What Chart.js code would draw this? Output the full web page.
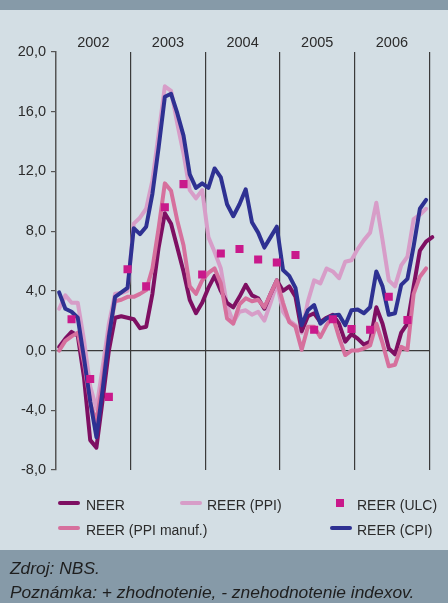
<!DOCTYPE html>
<html><head><meta charset="utf-8">
<script src="https://cdn.jsdelivr.net/npm/chart.js@4.4.1/dist/chart.umd.min.js"></script>
<style>
html,body{margin:0;padding:0;}
body{width:448px;height:603px;position:relative;overflow:hidden;background:#d3dee4;font-family:'Liberation Sans',Arial,sans-serif;color:#2b2b2b;}
#topband{position:absolute;left:0;top:0;width:448px;height:10px;background:#869aa8;}
#foot{position:absolute;left:0;top:550px;width:448px;height:53px;background:#869aa8;}
#c{position:absolute;left:0;top:0;}
.lg{position:absolute;font-size:14px;line-height:14px;white-space:nowrap;}
.ls{position:absolute;height:4px;border-radius:2px;width:22px;}
.lq{position:absolute;width:8px;height:8px;}
.ft{position:absolute;left:10px;font-size:17.4px;line-height:17.4px;font-style:italic;white-space:nowrap;color:#1e1e1e;}
</style></head>
<body>
<div id="topband"></div>
<div id="foot"></div>
<canvas id="c" width="448" height="603"></canvas>
<div id="legend"></div>
<div class="ft" style="top:560px">Zdroj: NBS.</div>
<div class="ft" style="top:584px">Poznámka: + zhodnotenie, - znehodnotenie indexov.</div>
<script>
// Monthly values, Jan 2002 onward (NEER has one extra month)
const neer = [0.25, 0.8, 1.25, 1.0, -1.8, -6.0, -6.5, -3.3, 0.0, 2.2,
  2.3, 2.2, 2.1, 1.5, 1.6, 3.8, 6.9, 9.2, 8.5, 6.9,
  5.3, 3.4, 2.5, 3.2, 4.2, 5.0, 4.0, 3.2, 2.9, 3.6,
  4.4, 3.7, 3.5, 2.8, 3.8, 4.7, 4.0, 4.3, 3.6, 1.3,
  2.3, 2.5, 1.9, 2.2, 2.4, 1.8, 0.6, 1.1, 0.8, 0.4,
  0.6, 2.9, 1.8, 0.15, -0.25, 1.2, 1.8, 4.3, 6.7, 7.3, 7.6];
const reerCpi = [3.9, 2.8, 2.6, 2.2, -0.5, -3.4, -5.8, -2.6, 0.9, 3.6,
  3.9, 4.2, 8.2, 7.8, 8.3, 10.5, 13.6, 17.0, 17.2, 15.9,
  14.4, 11.8, 10.9, 11.2, 10.9, 12.2, 11.6, 9.8, 9.0, 9.8,
  10.8, 8.6, 7.9, 6.9, 7.6, 8.3, 5.4, 5.0, 4.2, 1.7,
  2.7, 3.05, 1.8, 2.15, 2.35, 2.4, 1.7, 2.7, 2.75, 2.5,
  2.9, 5.3, 4.3, 2.4, 2.5, 4.4, 4.8, 7.0, 9.5, 10.1];
const reerPpi = [2.8, 3.7, 3.2, 3.2, 0.7, -2.4, -3.9, -1.1, 1.8, 3.8,
  3.85, 4.0, 8.5, 8.9, 9.5, 11.4, 14.5, 17.7, 17.4, 15.2,
  13.2, 10.75, 10.2, 10.75, 7.6, 6.6, 5.5, 3.0, 1.9, 2.6,
  2.7, 2.4, 2.6, 2.0, 3.2, 4.5, 2.6, 2.0, 1.7, 1.2,
  3.3, 4.7, 4.5, 5.5, 5.3, 4.85, 5.95, 6.05, 6.8, 7.4,
  7.9, 9.9, 7.4, 4.7, 4.3, 5.7, 6.3, 8.8, 9.1, 9.5];
const reerPpiManuf = [0.0, 0.65, 0.95, 1.2, -0.85, -3.5, -4.8, -2.0, 1.15, 3.3,
  3.4, 3.6, 3.6, 3.8, 4.05, 5.5, 8.2, 11.2, 10.7, 8.7,
  7.05, 4.3, 3.8, 4.7, 5.2, 5.5, 4.5, 2.15, 1.8, 3.1,
  3.5, 3.3, 3.4, 2.9, 3.8, 4.7, 3.2, 1.9, 1.6, 0.05,
  1.6, 1.6, 0.9, 1.7, 2.3, 0.9, -0.3, 0.0, 0.0, 0.15,
  0.35, 1.8, 0.5, -1.05, -0.95, 0.25, 0.05, 3.8, 4.95, 5.5];
// Quarterly values, Q1 2002 - Q3 2006 (plotted at quarter-end month)
const reerUlc = [2.1, -1.9, -3.1, 5.45, 4.3, 9.6, 11.15, 5.1, 6.5, 6.8,
  6.1, 5.9, 6.4, 1.4, 2.1, 1.45, 1.4, 3.6, 2.05];
const years = ['2002', '2003', '2004', '2005', '2006'];
const yTicks = [-8, -4, 0, 4, 8, 12, 16, 20];
const names = ['NEER', 'REER (PPI)', 'REER (ULC)', 'REER (PPI manuf.)', 'REER (CPI)'];

const C_NEER = '#7e0f62', C_PPI = '#d79dc8', C_ULC = '#c9198b', C_PPIM = '#d6709d', C_CPI = '#2e3192';
const FONT = "'Liberation Sans', Arial, sans-serif";
const TXT = '#2b2b2b';

const monthly = arr => arr.map((v, i) => ({x: i, y: v}));
const quarterly = arr => arr.map((v, k) => ({x: 2 + 3 * k, y: v}));

const xTickVals = [];
for (let y = 0; y <= years.length; y++) {
  xTickVals.push(y * 12 - 0.5);
  if (y < years.length) xTickVals.push(y * 12 + 5.5);
}

const lineDs = (label, data, color, order, extra) => Object.assign({
  label, data: monthly(data), borderColor: color, backgroundColor: color,
  borderWidth: 4, pointRadius: 0, tension: 0, fill: false, order,
  borderJoinStyle: 'round', borderCapStyle: 'round'
}, extra || {});

new Chart(document.getElementById('c'), {
  type: 'line',
  data: {
    datasets: [
      lineDs(names[1], reerPpi, C_PPI, 4),
      lineDs(names[0], neer, C_NEER, 3, {clip: false}),
      lineDs(names[3], reerPpiManuf, C_PPIM, 2),
      lineDs(names[4], reerCpi, C_CPI, 1),
      {label: names[2], data: quarterly(reerUlc), showLine: false, pointStyle: 'rect',
       pointRadius: 5.7, pointHoverRadius: 5.7, borderWidth: 0, backgroundColor: C_ULC,
       borderColor: C_ULC, order: 0}
    ]
  },
  options: {
    responsive: false, animation: false, devicePixelRatio: 1,
    layout: {padding: {left: 0, right: 18.8, top: 0, bottom: 133}},
    plugins: {legend: {display: false}, tooltip: {enabled: false}},
    scales: {
      x: {
        type: 'linear', position: 'top', min: -0.5, max: 59.5,
        afterFit: s => { s.height = 52; },
        afterBuildTicks: s => { s.ticks = xTickVals.map(v => ({value: v})); },
        ticks: {
          autoSkip: false, maxRotation: 0, padding: 0, color: TXT,
          font: {family: FONT, size: 14.5},
          callback: v => {
            const k = (v - 5.5) / 12;
            return Number.isInteger(k) ? years[k] : '';
          }
        },
        grid: {
          drawTicks: false, lineWidth: 1.2,
          color: ctx => {
            const v = ctx.tick ? ctx.tick.value : null;
            return (v !== null && v > 0 && Number.isInteger((v + 0.5) / 12)) ? '#3a3a3a' : 'rgba(0,0,0,0)';
          }
        },
        border: {display: false}
      },
      y: {
        min: -8, max: 20,
        afterFit: s => { s.width = 56; },
        afterBuildTicks: s => { s.ticks = yTicks.map(v => ({value: v})); },
        ticks: {
          padding: 5, color: TXT, font: {family: FONT, size: 14.5},
          callback: v => v.toFixed(1).replace('.', ',')
        },
        grid: {
          lineWidth: 1.2, tickLength: 5, tickColor: '#555',
          color: ctx => (ctx.tick && ctx.tick.value === 0) ? '#3a3a3a' : 'rgba(0,0,0,0)'
        },
        border: {display: true, color: '#555', width: 1.5}
      }
    }
  }
});

// Legend (HTML)
const legendItems = [
  {name: names[0], color: C_NEER, kind: 'line', lx: 58, tx: 86, row: 0},
  {name: names[1], color: C_PPI, kind: 'line', lx: 180, tx: 207, row: 0},
  {name: names[2], color: C_ULC, kind: 'rect', lx: 336, tx: 357, row: 0},
  {name: names[3], color: C_PPIM, kind: 'line', lx: 58, tx: 86, row: 1},
  {name: names[4], color: C_CPI, kind: 'line', lx: 330, tx: 357, row: 1}
];
const lg = document.getElementById('legend');
const rowText = [497.5, 523], rowLine = [500.7, 526.3], rowSq = [498.5, 524];
legendItems.forEach(it => {
  const m = document.createElement('div');
  if (it.kind === 'line') {
    m.className = 'ls';
    m.style.left = it.lx + 'px'; m.style.top = rowLine[it.row] + 'px';
  } else {
    m.className = 'lq';
    m.style.left = it.lx + 'px'; m.style.top = rowSq[it.row] + 'px';
  }
  m.style.background = it.color;
  lg.appendChild(m);
  const t = document.createElement('div');
  t.className = 'lg';
  t.style.left = it.tx + 'px'; t.style.top = rowText[it.row] + 'px';
  t.textContent = it.name;
  lg.appendChild(t);
});
</script>
</body></html>
